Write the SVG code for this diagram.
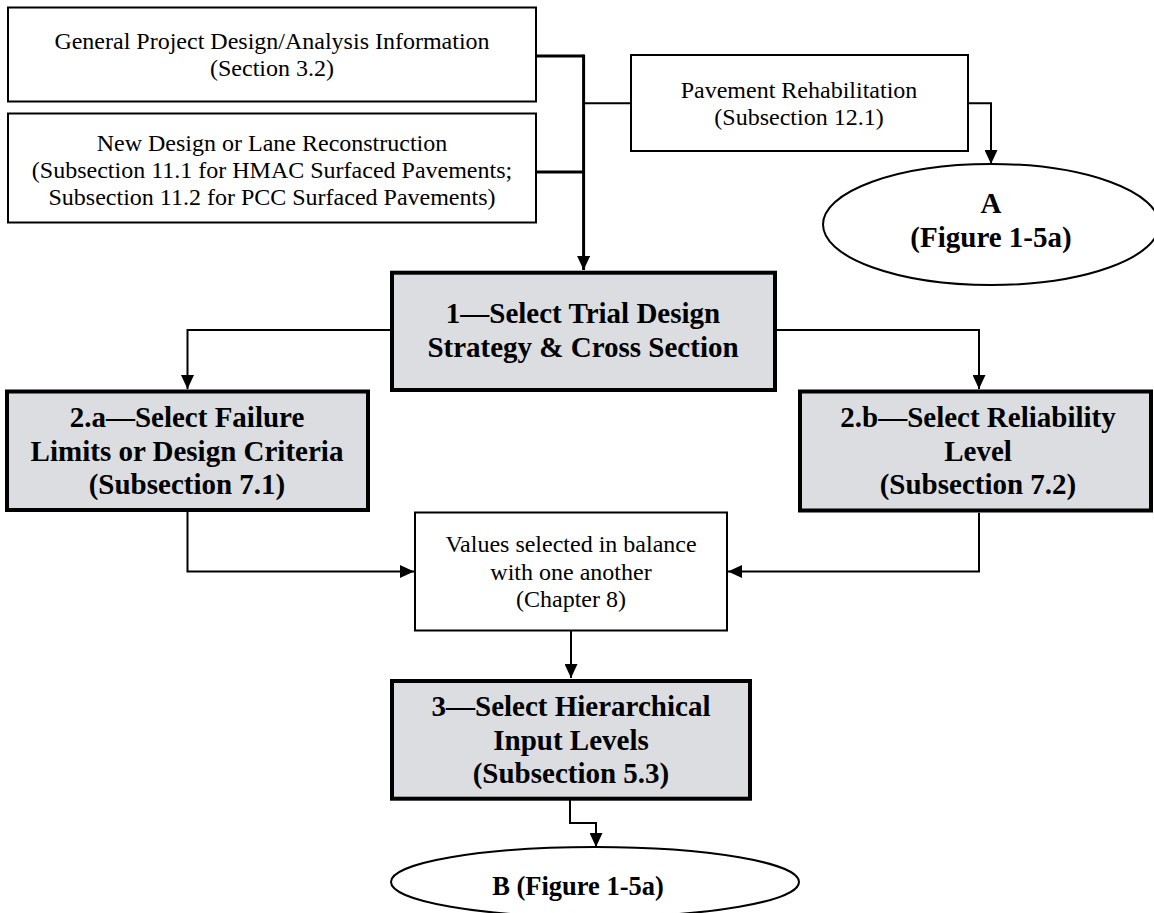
<svg xmlns="http://www.w3.org/2000/svg" width="1154" height="913" viewBox="0 0 1154 913">
  <style>
    .box { fill: #ffffff; stroke: #000000; stroke-width: 2; }
    .step { fill: #dcdde0; stroke: #000000; stroke-width: 4; }
    .oval { fill: #ffffff; stroke: #000000; stroke-width: 2; }
    .t { font-family: "Liberation Serif", "Times New Roman", serif; font-size: 24px; fill: #000000; text-anchor: middle; }
    .b { font-family: "Liberation Serif", "Times New Roman", serif; font-size: 29px; font-weight: bold; fill: #000000; text-anchor: middle; }
    .c { fill: none; stroke: #000000; stroke-width: 2; }
    .ck { fill: none; stroke: #000000; stroke-width: 3; }
  </style>
  <defs>
    <marker id="arr" markerUnits="userSpaceOnUse" markerWidth="14" markerHeight="13" refX="14" refY="6.5" orient="auto">
      <path d="M0,0 L14,6.5 L0,13 Z" fill="#000000"/>
    </marker>
  </defs>
  <rect width="1154" height="913" fill="#ffffff"/>

  <g id="connectors">
    <path class="ck" d="M536,56 H583.6"/>
    <path class="ck" d="M536,172 H583.6"/>
    <path class="ck" d="M583.6,54.5 V270" marker-end="url(#arr)"/>
    <path class="c" d="M583.6,103.3 H631"/>
    <path class="c" d="M967.6,103.3 H991 V164" marker-end="url(#arr)"/>
    <path class="c" d="M390,330 H187.5 V389" marker-end="url(#arr)"/>
    <path class="c" d="M777,330 H979 V389" marker-end="url(#arr)"/>
    <path class="c" d="M187.5,512 V571.5 H414" marker-end="url(#arr)"/>
    <path class="c" d="M979,512.7 V571.5 H728" marker-end="url(#arr)"/>
    <path class="c" d="M571,631 V678" marker-end="url(#arr)"/>
    <path class="c" d="M570,800 V823 H596 V847" marker-end="url(#arr)"/>
  </g>

  <g id="general">
    <rect class="box" x="8" y="7.5" width="528" height="94"/>
    <text class="t" x="272" y="49">General Project Design/Analysis Information</text>
    <text class="t" x="272" y="76">(Section 3.2)</text>
  </g>

  <g id="newdesign">
    <rect class="box" x="8" y="113.5" width="528" height="109"/>
    <text class="t" x="272" y="151">New Design or Lane Reconstruction</text>
    <text class="t" x="272" y="178">(Subsection 11.1 for HMAC Surfaced Pavements;</text>
    <text class="t" x="272" y="205">Subsection 11.2 for PCC Surfaced Pavements)</text>
  </g>

  <g id="rehab">
    <rect class="box" x="631" y="55" width="337" height="96"/>
    <text class="t" x="799" y="97.5">Pavement Rehabilitation</text>
    <text class="t" x="799" y="125">(Subsection 12.1)</text>
  </g>

  <g id="ovalA">
    <ellipse class="oval" cx="991" cy="224.5" rx="168" ry="60.5"/>
    <text class="b" x="991" y="213.3">A</text>
    <text class="b" x="991" y="246.7">(Figure 1-5a)</text>
  </g>

  <g id="step1">
    <rect class="step" x="392" y="272.7" width="383" height="117.3"/>
    <text class="b" x="583" y="323">1—Select Trial Design</text>
    <text class="b" x="583" y="356.5">Strategy &amp; Cross Section</text>
  </g>

  <g id="step2a">
    <rect class="step" x="7" y="391.5" width="361" height="118.5"/>
    <text class="b" x="187" y="427">2.a—Select Failure</text>
    <text class="b" x="187" y="460.5">Limits or Design Criteria</text>
    <text class="b" x="187" y="494">(Subsection 7.1)</text>
  </g>

  <g id="step2b">
    <rect class="step" x="800" y="391.5" width="351" height="119"/>
    <text class="b" x="978" y="427.4">2.b—Select Reliability</text>
    <text class="b" x="978" y="460.9">Level</text>
    <text class="b" x="978" y="494.4">(Subsection 7.2)</text>
  </g>

  <g id="balance">
    <rect class="box" x="415" y="512.5" width="312" height="118"/>
    <text class="t" x="571" y="552.3">Values selected in balance</text>
    <text class="t" x="571" y="579.5">with one another</text>
    <text class="t" x="571" y="606.8">(Chapter 8)</text>
  </g>

  <g id="step3">
    <rect class="step" x="392" y="681" width="358" height="117.7"/>
    <text class="b" x="571" y="716">3—Select Hierarchical</text>
    <text class="b" x="571" y="749.5">Input Levels</text>
    <text class="b" x="571" y="783">(Subsection 5.3)</text>
  </g>

  <g id="ovalB">
    <ellipse class="oval" cx="595" cy="882" rx="204" ry="35"/>
    <text class="b" x="578" y="895" style="font-size:26.5px">B (Figure 1-5a)</text>
  </g>
</svg>
